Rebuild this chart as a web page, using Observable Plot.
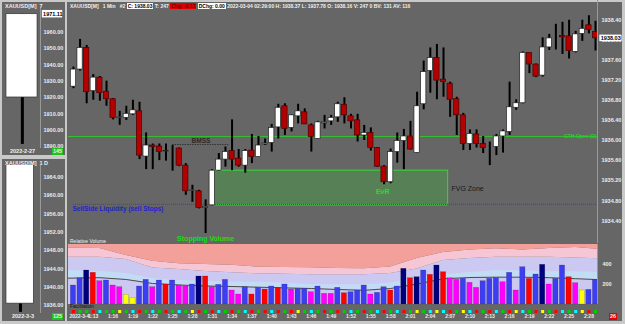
<!DOCTYPE html>
<html><head><meta charset="utf-8">
<script src="https://cdn.jsdelivr.net/npm/d3@7"></script>
<script src="https://cdn.jsdelivr.net/npm/@observablehq/plot@0.6"></script>
<style>
body{margin:0;background:#c9c9c9;width:625px;height:324px;overflow:hidden;font-family:"Liberation Sans",Arial,sans-serif;}
#root{position:relative;width:625px;height:324px;}
.panel{position:absolute;background:#666;}
.abs{position:absolute;white-space:nowrap;}
.t{color:#f0f0f0;font-size:5.5px;font-weight:bold;}
.box{padding:0 1px;}
svg{overflow:visible;}
</style></head><body><div id="root">
<div class="panel" style="left:2px;top:2px;width:63px;height:153px"></div>
<div class="panel" style="left:2px;top:159px;width:63px;height:162px"></div>
<div class="panel" style="left:67px;top:2px;width:555px;height:319px"></div>
<div id="title" class="abs t" style="left:70px;top:3px;line-height:7px;font-size:5px"></div>
<div class="abs t" style="left:5px;top:3px;line-height:7px">XAUUSD[M]&nbsp;&nbsp;7</div>
<div class="abs t" style="left:5px;top:160px;line-height:7px">XAUUSD[M]&nbsp;&nbsp;1 D</div>
<div id="wk" class="abs" style="left:0px;top:8px"></div>
<div id="dy" class="abs" style="left:0px;top:165px"></div>
<div id="price" class="abs" style="left:66px;top:0px"></div>
<div id="vol" class="abs" style="left:66px;top:243px"></div>
<div id="fac" class="abs" style="left:66px;top:305px"></div>
<div class="abs t" style="left:10px;top:148px;line-height:7px">2022-2-27</div>
<div class="abs t" style="left:52px;top:148px;line-height:7px;background:#1fc21f;padding:0 1px">145</div>
<div class="abs t" style="left:12px;top:313px;line-height:7px">2022-3-3</div>
<div class="abs t" style="left:52px;top:313px;line-height:7px;background:#1fc21f;padding:0 1px">125</div>
<div class="abs t" style="left:609px;top:313px;line-height:7px;background:#e00000;padding:0 1px">26</div>
<div class="abs t" style="left:70px;top:238px;line-height:7px;font-weight:normal;font-size:5px">Relative Volume</div>
<div class="abs t" style="left:70px;top:303px;line-height:7px;font-weight:normal;color:#111;font-size:5px">Facilitation</div>
</div>
<script>
// ---------- data ----------
const timeTickIndex = [0,3,6,9,12,15,18,21,24,27,30,33,36,39,42,45,48,51,54,57,60,63,66,69,72,75,78];
const timeTickLabel = ["2022-3-4","1:13","1:16","1:19","1:22","1:25","1:28","1:31","1:34","1:37","1:40","1:43","1:46","1:49","1:52","1:55","1:58","2:01","2:04","2:07","2:10","2:13","2:16","2:19","2:22","2:25","2:28"];

const open  = [1937.07,1937.41,1937.84,1936.98,1937.25,1936.97,1936.82,1936.45,1936.45,1936.52,1936.58,1935.68,1935.90,1935.88,1935.78,1935.82,1935.84,1935.50,1935.00,1934.99,1934.66,1934.71,1935.40,1935.62,1935.79,1935.64,1935.50,1935.80,1935.67,1935.92,1935.95,1936.26,1936.68,1936.25,1936.48,1936.56,1936.30,1936.03,1936.34,1936.38,1936.46,1936.71,1936.48,1936.40,1936.10,1936.15,1935.85,1935.48,1935.17,1935.77,1935.99,1936.08,1935.75,1936.72,1937.38,1937.64,1937.21,1937.13,1936.82,1936.50,1935.93,1936.12,1935.93,1935.88,1935.87,1936.08,1936.17,1936.65,1936.74,1937.74,1937.51,1937.29,1937.85,1938.04,1938.08,1938.07,1937.76,1938.12,1938.29,1938.16];
const high  = [1937.46,1938.01,1937.89,1937.31,1937.27,1937.18,1936.83,1936.58,1936.68,1936.80,1936.76,1936.15,1935.93,1935.93,1935.93,1935.90,1935.85,1935.54,1935.11,1935.01,1934.82,1935.42,1935.74,1935.87,1936.41,1935.82,1935.82,1936.12,1936.08,1936.03,1936.32,1936.72,1936.73,1936.51,1936.72,1936.63,1936.33,1936.38,1936.50,1936.50,1936.76,1936.85,1936.52,1936.52,1936.30,1936.25,1935.86,1935.50,1935.83,1936.15,1936.22,1936.38,1936.96,1937.58,1937.84,1937.91,1937.84,1937.16,1936.86,1936.54,1936.21,1936.21,1936.08,1935.97,1936.12,1936.21,1937.16,1936.81,1937.76,1937.74,1937.52,1938.04,1938.11,1938.31,1938.35,1938.39,1938.17,1938.39,1938.48,1938.37];
const low   = [1937.03,1937.38,1936.73,1936.80,1936.78,1936.68,1936.41,1936.30,1936.40,1936.50,1935.62,1935.42,1935.42,1935.60,1935.59,1935.39,1935.48,1934.91,1934.77,1934.64,1934.15,1934.70,1935.39,1935.47,1935.40,1935.47,1935.35,1935.54,1935.67,1935.90,1935.77,1936.03,1936.10,1936.17,1936.33,1936.32,1935.77,1936.03,1936.23,1936.30,1936.36,1936.33,1936.23,1935.97,1936.00,1935.79,1935.47,1935.12,1935.14,1935.55,1935.42,1935.81,1935.74,1936.61,1936.94,1936.81,1936.86,1936.46,1936.10,1935.80,1935.80,1935.85,1935.74,1935.50,1935.70,1935.75,1936.10,1936.60,1936.73,1937.33,1937.25,1937.26,1937.79,1937.80,1937.71,1937.62,1937.74,1937.97,1938.12,1937.78];
const close = [1937.41,1937.84,1936.96,1937.25,1936.94,1936.82,1936.45,1936.46,1936.53,1936.60,1935.70,1935.90,1935.87,1935.77,1935.79,1935.82,1935.50,1934.99,1935.01,1934.66,1934.68,1935.40,1935.62,1935.77,1935.62,1935.50,1935.79,1935.67,1935.90,1935.94,1936.25,1936.65,1936.23,1936.50,1936.58,1936.32,1936.07,1936.36,1936.36,1936.45,1936.72,1936.50,1936.38,1936.10,1936.15,1935.85,1935.48,1935.17,1935.77,1935.99,1936.08,1935.82,1936.68,1937.36,1937.64,1937.19,1937.16,1936.81,1936.50,1935.93,1936.13,1935.93,1935.85,1935.88,1936.08,1936.18,1936.66,1936.74,1937.74,1937.51,1937.27,1937.85,1938.03,1938.04,1938.05,1937.78,1938.11,1938.22,1938.20,1938.03];

const volume = [190,263,340,317,233,240,190,173,97,67,180,247,173,240,200,240,190,180,200,280,280,173,197,247,140,100,173,100,167,150,180,167,200,150,157,157,123,180,107,107,167,113,123,140,190,100,117,173,140,180,357,263,273,340,297,390,323,263,247,257,217,167,233,257,263,223,317,140,373,257,300,397,200,257,390,273,213,140,147,247];
const volumeClass = ["b","b","n","r","m","b","m","m","y","y","b","b","m","b","r","b","m","m","b","n","r","m","b","b","m","m","b","r","b","r","b","r","b","m","b","b","m","b","m","m","b","r","b","b","b","m","b","b","r","b","n","r","n","b","r","n","r","m","m","b","m","m","b","b","b","m","b","m","b","r","b","n","m","b","b","r","m","y","b","b"];
const facilitation = ["r","g","g","r","c","g","g","y","g","c","r","g","c","g","r","g","c","g","y","r","g","r","c","g","r","g","c","r","g","r","c","r","g","r","y","g","c","g","r","g","r","g","c","g","r","g","c","r","g","c","r","g","y","g","c","y","c","r","g","y","c","r","g","r","c","g","r","y","c","g","r","y","g","r","c","g","c","y","r","g"];

// relative-volume bands (volume units) sampled along the bar index
const bandX     = [-1,4,8,12,16,20,24,28,32,36,40,44,48,52,56,60,64,68,72,76,80];
const bandUpper = [563,560,490,433,407,400,392,373,370,368,360,357,375,460,520,545,557,545,560,570,550];
const bandMid   = [473,473,450,365,350,330,318,307,302,298,297,297,310,355,440,460,473,473,473,465,457];
const bandLow   = [340,333,310,258,240,230,226,223,212,200,197,197,215,268,297,320,340,335,330,327,323];
const bandAvg   = [263,268,250,210,195,185,180,173,166,160,150,142,160,205,257,270,273,273,268,258,247];

const priceTicks = [1934.4,1934.8,1935.2,1935.6,1936.0,1936.4,1936.8,1937.2,1937.6,1938.0,1938.4];
const volumeTicks = [200,400];
const lastPrice = 1938.03;
const gthOpen = 1936.08;
const sellSide = {price: 1934.73, from: 0, to: 79.3, label: "SellSide Liquidity (sell Stops)"};
const fvg = {from: 21.2, to: 56.7, lo: 1934.71, hi: 1935.40, label: "FVG Zone", labelAt: 57.2, labelPrice: 1935.05};
const bmss = {from: 15, to: 23.5, price: 1935.92, label: "BMSS", labelAt: 19.3, labelPrice: 1936.0};
const stopping = {at: 20, price: 1934.05, label: "Stopping Volume"};
const evr = {at: 46.8, price: 1934.99, label: "EvR"};

const weekly = {o: 1920.0, h: 1971.11, l: 1891.2, c: 1971.11};
const weeklyTicks = [1890,1900,1910,1920,1930,1940,1950,1960];
const daily = {o: 1936.4, h: 1968, l: 1934.5, c: 1968};
const dailyTicks = [1936,1940,1944,1948,1952,1956,1960,1964];

// ---------- drawing ----------
const font = "Liberation Sans, Arial, sans-serif";
const idx = d3.range(open.length);
const xDom = [-0.75, 79.3];
const volColor = {b: "#3d3df2", n: "#00007c", r: "#ff0000", m: "#ff00ff", y: "#ffff00"};
const facColor = {r: "#ff0000", g: "#00d000", c: "#00ffff", y: "#ffff00"};
const baseStyle = {background: "transparent", fontFamily: font, fontSize: "5.5px", color: "#ececec", overflow: "visible"};

document.getElementById("title").innerHTML =
 'XAUUSD[M]&nbsp;&nbsp;&nbsp;1 Min&nbsp;&nbsp;&nbsp;#2 <span class="box" style="background:#fff;color:#000">C: 1938.03</span> T: 247 <span class="box" style="background:#e00000;color:#700">Chg: -0.13</span> <span class="box" style="background:#fff;color:#000">DChg: 0.00</span> 2022-03-04 02:29:00 H: 1938.37 L: 1937.78 O: 1938.16 V: 247 0 BV: 131 AV: 116';

const pricePlot = Plot.plot({
  width: 559, height: 243, marginLeft: 2, marginRight: 28, marginTop: 0, marginBottom: 0,
  style: baseStyle,
  x: {domain: xDom, axis: null},
  y: {domain: [1933.952, 1938.783], axis: null},
  marks: [
    Plot.rect([fvg], {x1: "from", x2: "to", y1: "lo", y2: "hi", fill: "#3faa3f", fillOpacity: 0.38, stroke: "#33dd33", strokeWidth: 1}),
    Plot.ruleY([gthOpen], {y: d => d, stroke: "#33c233", strokeWidth: 1}),
    Plot.ruleY([sellSide], {y: "price", x1: "from", x2: "to", stroke: "#3a3ad0", strokeWidth: 1, strokeDasharray: "1,1"}),
    Plot.ruleY([bmss], {y: "price", x1: "from", x2: "to", stroke: "#333", strokeWidth: 1, strokeDasharray: "1.5,1"}),
    Plot.ruleX(idx, {x: d => d, y1: d => low[d], y2: d => high[d], stroke: "#000", strokeWidth: 2}),
    Plot.rect(idx, {x1: d => d - 0.4, x2: d => d + 0.4, y1: d => Math.min(open[d], close[d]), y2: d => Math.max(open[d], close[d]),
      fill: d => close[d] >= open[d] ? "#ffffff" : "#b40000", stroke: d => close[d] >= open[d] ? "#222" : "#4a0000", strokeWidth: 0.7}),
    Plot.text([bmss], {x: "labelAt", y: "labelPrice", text: "label", fill: "#2a2a2a", fontSize: 6.5, fontWeight: "bold"}),
    Plot.text([sellSide], {x: "from", y: d => d.price - 0.1, text: "label", fill: "#2323c8", fontSize: 6.5, fontWeight: "bold", textAnchor: "start", dx: -1}),
    Plot.text([fvg], {x: "labelAt", y: "labelPrice", text: "label", fill: "#1a1a1a", fontSize: 7, textAnchor: "start"}),
    Plot.text([stopping], {x: "at", y: "price", text: "label", fill: "#11e011", fontSize: 7, fontWeight: "bold"}),
    Plot.text([evr], {x: "at", y: "price", text: "label", fill: "#22e022", fontSize: 7, fontWeight: "bold"}),
    Plot.text([gthOpen], {x: () => xDom[1], y: d => d, text: () => "GTH Open (D)", fill: "#22e022", fontSize: 5, textAnchor: "end", dx: -1}),
    Plot.axisY({anchor: "right", ticks: priceTicks, tickSize: 0, tickPadding: 4, tickFormat: d => d.toFixed(2), fontWeight: "bold"}),
    Plot.ruleX([xDom[1]], {stroke: "#999", strokeWidth: 1}),
    Plot.rect([lastPrice], {x1: () => 79.65, x2: () => 83.0, y1: d => d - 0.065, y2: d => d + 0.065, fill: "#fff"}),
    Plot.text([lastPrice], {x: () => 79.8, y: d => d, text: d => d.toFixed(2), fill: "#000", fontSize: 5.5, fontWeight: "bold", textAnchor: "start"})
  ]
});
document.getElementById("price").append(pricePlot);

const volPlot = Plot.plot({
  width: 559, height: 62, marginLeft: 2, marginRight: 28, marginTop: 1, marginBottom: 1,
  style: baseStyle,
  x: {domain: xDom, axis: null},
  y: {domain: [0, 600], axis: null},
  marks: [
    Plot.areaY(bandX, {x: bandX, y1: () => 0, y2: bandMid, fill: "#cbc8f2", clip: true}),
    Plot.areaY(bandX, {x: bandX, y1: bandMid, y2: bandUpper, fill: "#f6c6d4", clip: true}),
    Plot.areaY(bandX, {x: bandX, y1: bandUpper, y2: () => 600, fill: "#f3a09a", clip: true}),
    Plot.areaY(bandX, {x: bandX, y1: bandAvg, y2: bandLow, fill: "#c2dcf6", clip: true}),
    Plot.line(bandX, {x: bandX, y: bandAvg, stroke: "#4a4a4a", strokeWidth: 1, clip: true}),
    Plot.rectY(idx, {x1: d => d - 0.4, x2: d => d + 0.4, y: d => volume[d], fill: d => volColor[volumeClass[d]], stroke: "#222", strokeOpacity: 0.35, strokeWidth: 0.5}),
    Plot.ruleX([xDom[1]], {stroke: "#999", strokeWidth: 1}),
    Plot.axisY({anchor: "right", ticks: volumeTicks, tickSize: 0, tickPadding: 5, fontWeight: "bold"})
  ]
});
document.getElementById("vol").append(volPlot);

const facPlot = Plot.plot({
  width: 559, height: 16, marginLeft: 2, marginRight: 28, marginTop: 3, marginBottom: 8,
  style: {...baseStyle, fontSize: "5px"},
  x: {domain: xDom, axis: null},
  y: {domain: ["f"], axis: null},
  marks: [
    Plot.dot(idx, {x: d => d, y: () => "f", symbol: "square", r: 1.7, fill: d => facColor[facilitation[d]]}),
    Plot.axisX({ticks: timeTickIndex.slice(1), tickFormat: d => timeTickLabel[timeTickIndex.indexOf(d)], tickSize: 0, tickPadding: 1, fontWeight: "bold"}),
    Plot.text([0], {x: d => timeTickIndex[d], text: d => timeTickLabel[d], frameAnchor: "bottom", lineAnchor: "top", dy: 1, textAnchor: "start", dx: -4, fontWeight: "bold"}),
    Plot.ruleX([xDom[1]], {y1: () => "f", stroke: "#999", strokeWidth: 1})
  ]
});
document.getElementById("fac").append(facPlot);

function mini(c, ticks, dom, h, cx, hw, boxLabel) {
  return Plot.plot({
    width: 63, height: h, marginLeft: 3, marginRight: 23, marginTop: 0, marginBottom: 0,
    style: baseStyle,
    x: {domain: [0, 1], axis: null},
    y: {domain: dom, axis: null},
    marks: [
      Plot.ruleX([c], {x: () => cx + 0.01, y1: "l", y2: "h", stroke: "#000", strokeWidth: 3, clip: true}),
      Plot.rect([c], {x1: () => cx - hw, x2: () => cx + hw, y1: d => Math.min(d.o, d.c), y2: d => Math.max(d.o, d.c), fill: "#fff", stroke: "#333", strokeWidth: 0.7, clip: true}),
      Plot.axisY({anchor: "right", ticks, tickSize: 0, tickPadding: 3, tickFormat: d => d.toFixed(2), fontWeight: "bold"}),
      Plot.ruleX([1], {stroke: "#999", strokeWidth: 1}),
      ...(boxLabel ? [
        Plot.rect([c], {x1: () => 1.05, x2: () => 1.6, y1: d => d.c - 2.3, y2: d => d.c + 2.3, fill: "#fff"}),
        Plot.text([c], {x: () => 1.07, y: "c", text: d => d.c.toFixed(2), fill: "#000", textAnchor: "start", fontWeight: "bold"})
      ] : [])
    ]
  });
}
document.getElementById("wk").append(mini(weekly, weeklyTicks, [1888.7, 1974.6], 140, 0.5, 0.42, true));
document.getElementById("dy").append(mini(daily, dailyTicks, [1934.25, 1966.57], 148, 0.45, 0.37, false));
</script>
</body></html>
